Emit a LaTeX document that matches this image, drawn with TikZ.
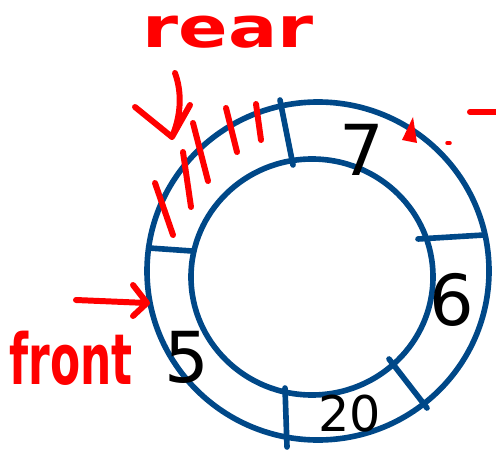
\documentclass[tikz,border=0pt]{standalone}
\usepackage{fontspec}
\setmainfont{DejaVu Sans}
\definecolor{ringblue}{RGB}{0,72,136}
\definecolor{inkred}{RGB}{255,0,0}
\begin{document}
\begin{tikzpicture}[
    x=0.02cm, y=-0.02cm,
    ring/.style={draw=ringblue, line width=3.2pt},
    divider/.style={draw=ringblue, line width=3.2pt, line cap=round},
    hatch/.style={draw=inkred, line width=3.4pt, line cap=round},
    redarrow/.style={draw=inkred, line width=3.4pt, line cap=round, line join=round},
    value/.style={font=\fontsize{40}{40}\selectfont, inner sep=0pt},
    tag/.style={text=inkred, font=\bfseries, inner sep=0pt},
]
\useasboundingbox (0,0) rectangle (496,449);

% ring
\draw[ring] (318,271) ellipse [x radius=171, y radius=169];
\draw[ring] (312,277) ellipse [x radius=121, y radius=118];

% cell borders
\draw[divider] (280,100) -- (293,165);
\draw[divider] (418,239) -- (484,235);
\draw[divider] (389,359) -- (427,408);
\draw[divider] (285,388) -- (287,447);
\draw[divider] (149,248) -- (192,251);

% crossed-out cell
\foreach \ax/\ay/\bx/\by in {155/183/173/235, 183/152/191/207, 193/123/208/181,
                             226/108/237/152, 256/104/261/140}
    \draw[hatch] (\ax,\ay) -- (\bx,\by);

% values
\node[value] (v7)  at (362,150) {7};
\node[value] (v6)  at (452,300) {6};
\node[value] (v5)  at (187,357) {5};
\node[value, font=\fontsize{28}{28}\selectfont] (v20) at (350,414) {20};

% pointers
\node[tag, font=\fontsize{32}{32}\selectfont\bfseries, xscale=1.3] (rear) at (228,32) {rear};
\node[tag, font=\fontsize{25}{25}\selectfont\bfseries, yscale=1.6] (front) at (71,358) {front};

\coordinate (rearTail) at (175,73);
\coordinate (rearTip)  at (172,137);
\coordinate (frontTail) at (76,300);
\coordinate (frontTip)  at (147,303);

\draw[redarrow] (rearTail) .. controls (183,95) and (180,118) .. (rearTip)
    (135,107) -- (rearTip) -- (190,105);
\draw[redarrow] (frontTail) -- (frontTip)
    (133,285) -- (frontTip) -- (133,316);

% stray marks on the right
\coordinate (dashA) at (470,112);
\coordinate (dashB) at (496,112);
\fill[inkred] (413,117) -- (402,140) -- (417,143) -- cycle;
\draw[redarrow] (dashA) -- (dashB);
\draw[redarrow, line width=2pt] (447,143) -- (450,143);
\end{tikzpicture}
\end{document}
